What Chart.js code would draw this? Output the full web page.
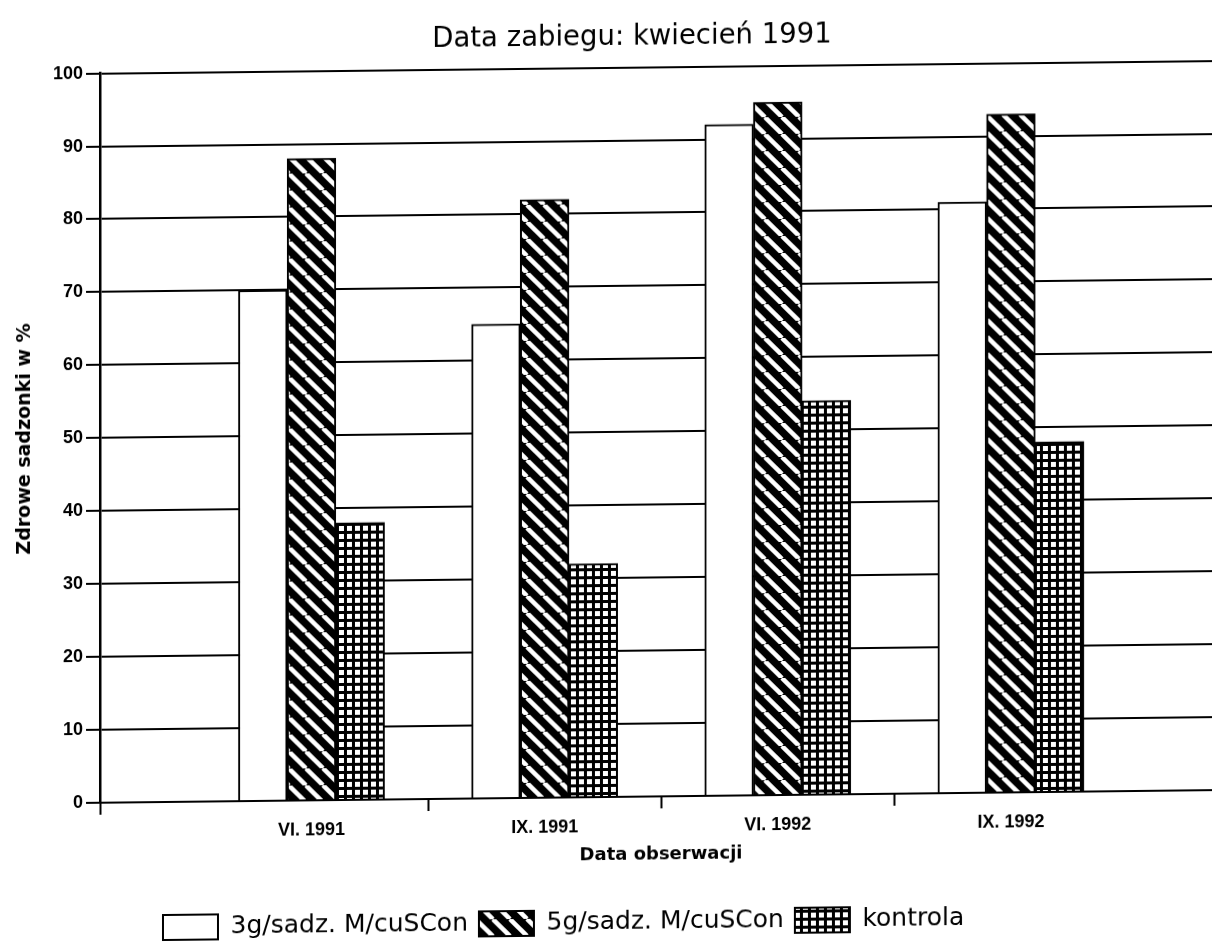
<!DOCTYPE html>
<html>
<head>
<meta charset="utf-8">
<script src="https://cdn.jsdelivr.net/npm/chart.js@4/dist/chart.umd.min.js"></script>
<style>
  html, body { margin: 0; padding: 0; background: #fff; overflow: hidden; width: 1212px; height: 944px; }
  #wrap { position: absolute; left: 0; top: 0; width: 1264px; height: 945px;
          transform: skewY(-0.65deg); transform-origin: 606px 472px; }
  canvas { display: block; }
</style>
</head>
<body>
<div id="wrap"><canvas id="chart" width="1264" height="945"></canvas></div>
<script>
// Observation dates (x categories)
const categories = ['VI. 1991', 'IX. 1991', 'VI. 1992', 'IX. 1992'];
// Healthy seedlings, % — one array per treatment
const dose3g = [70, 65, 92, 81];
const dose5g = [88, 82, 95, 93];
const control = [38, 32, 54, 48];
const seriesNames = ['3g/sadz. M/cuSCon', '5g/sadz. M/cuSCon', 'kontrola'];
// Value axis ticks
const yTicks = [0, 10, 20, 30, 40, 50, 60, 70, 80, 90, 100];

const chartTitle = 'Data zabiegu: kwiecień 1991';
const xTitle = 'Data obserwacji';
const yTitle = 'Zdrowe sadzonki w %';

// Fill patterns -------------------------------------------------------------
function makeTile(size, paint) {
  const c = document.createElement('canvas');
  c.width = size; c.height = size;
  paint(c.getContext('2d'), size);
  return c.getContext('2d').createPattern(c, 'repeat');
}
// white diagonal stripes "\" on black
const hatch = makeTile(17, (g, s) => {
  g.fillStyle = '#000'; g.fillRect(0, 0, s, s);
  g.strokeStyle = '#fff'; g.lineWidth = 4.5;
  for (const k of [-1, 0, 1]) {
    g.beginPath(); g.moveTo(k * s, 0); g.lineTo(k * s + s, s); g.stroke();
  }
});
// small white squares in a black lattice
const lattice = makeTile(8, (g, s) => {
  g.fillStyle = '#000'; g.fillRect(0, 0, s, s);
  g.fillStyle = '#fff'; g.fillRect(3, 3, 5, 5);
});

const toPoints = vals => vals.map((v, i) => ({ x: i + 1, y: v }));

// x axis: category centres at 1..n, separator marks halfway between them
const xMin = 0.093, xMax = 4.905;
const xTickValues = [xMin];
categories.forEach((c, i) => { if (i > 0) xTickValues.push(i + 0.5); xTickValues.push(i + 1); });

const BOLD = "'DejaVu Sans', sans-serif";
const TICKF = "'Liberation Sans', Arial, sans-serif";

// horizontal placement of the title and the legend row
const blockPlacement = {
  id: 'blockPlacement',
  afterLayout(chart) {
    if (chart.titleBlock) chart.titleBlock.left = 42;
    if (chart.legend) chart.legend.left = 152;
  }
};

new Chart(document.getElementById('chart'), {
  type: 'bar',
  data: {
    datasets: [
      { label: seriesNames[0], data: toPoints(dose3g), backgroundColor: '#fff', borderColor: '#000', borderWidth: 2 },
      { label: seriesNames[1], data: toPoints(dose5g), backgroundColor: hatch, borderColor: '#000', borderWidth: 2 },
      { label: seriesNames[2], data: toPoints(control), backgroundColor: lattice, borderColor: '#000', borderWidth: 2 }
    ]
  },
  options: {
    responsive: false,
    animation: false,
    barThickness: 48.7,
    layout: { padding: { left: 0, right: 42, top: 0, bottom: 0 } },
    plugins: {
      title: {
        display: true, text: chartTitle, color: '#000',
        font: { family: "'DejaVu Sans', sans-serif", size: 27.5, weight: 'normal' },
        padding: { top: 21, bottom: 13.6 }
      },
      legend: {
        position: 'bottom', align: 'start',
        labels: {
          color: '#000', boxWidth: 55, boxHeight: 25, padding: 11,
          font: { family: "'DejaVu Sans', sans-serif", size: 25 }
        }
      },
      tooltip: { enabled: false }
    },
    scales: {
      x: {
        type: 'linear', min: xMin, max: xMax, offset: false,
        afterBuildTicks: s => { s.ticks = xTickValues.map(v => ({ value: v })); },
        ticks: {
          autoSkip: false, maxRotation: 0, color: '#000', padding: 7,
          font: { family: TICKF, size: 18, weight: 'bold' },
          callback: v => Number.isInteger(v) ? categories[v - 1] : ''
        },
        grid: {
          offset: false, drawOnChartArea: false, drawTicks: true, tickLength: 12, tickWidth: 2,
          tickColor: ctx => (ctx.tick && Number.isInteger(ctx.tick.value)) ? 'rgba(0,0,0,0)' : '#000'
        },
        border: { display: true, color: '#000', width: 2 },
        title: {
          display: true, text: xTitle, color: '#000',
          font: { family: BOLD, size: 18, weight: 'bold' },
          padding: { top: 0, bottom: 32.8 }
        }
      },
      y: {
        min: 0, max: 100,
        afterBuildTicks: s => { s.ticks = yTicks.map(v => ({ value: v })); },
        ticks: {
          color: '#000', padding: 3,
          font: { family: TICKF, size: 18, weight: 'bold' }
        },
        grid: { color: '#000', lineWidth: 2, tickLength: 14, tickColor: '#000', tickWidth: 2 },
        border: { display: true, color: '#000', width: 2.5 },
        title: {
          display: true, text: yTitle, color: '#000',
          font: { family: BOLD, size: 19, weight: 'bold' },
          padding: { top: 13.6, bottom: 13.6 }
        }
      }
    }
  },
  plugins: [blockPlacement]
});
</script>
</body>
</html>
